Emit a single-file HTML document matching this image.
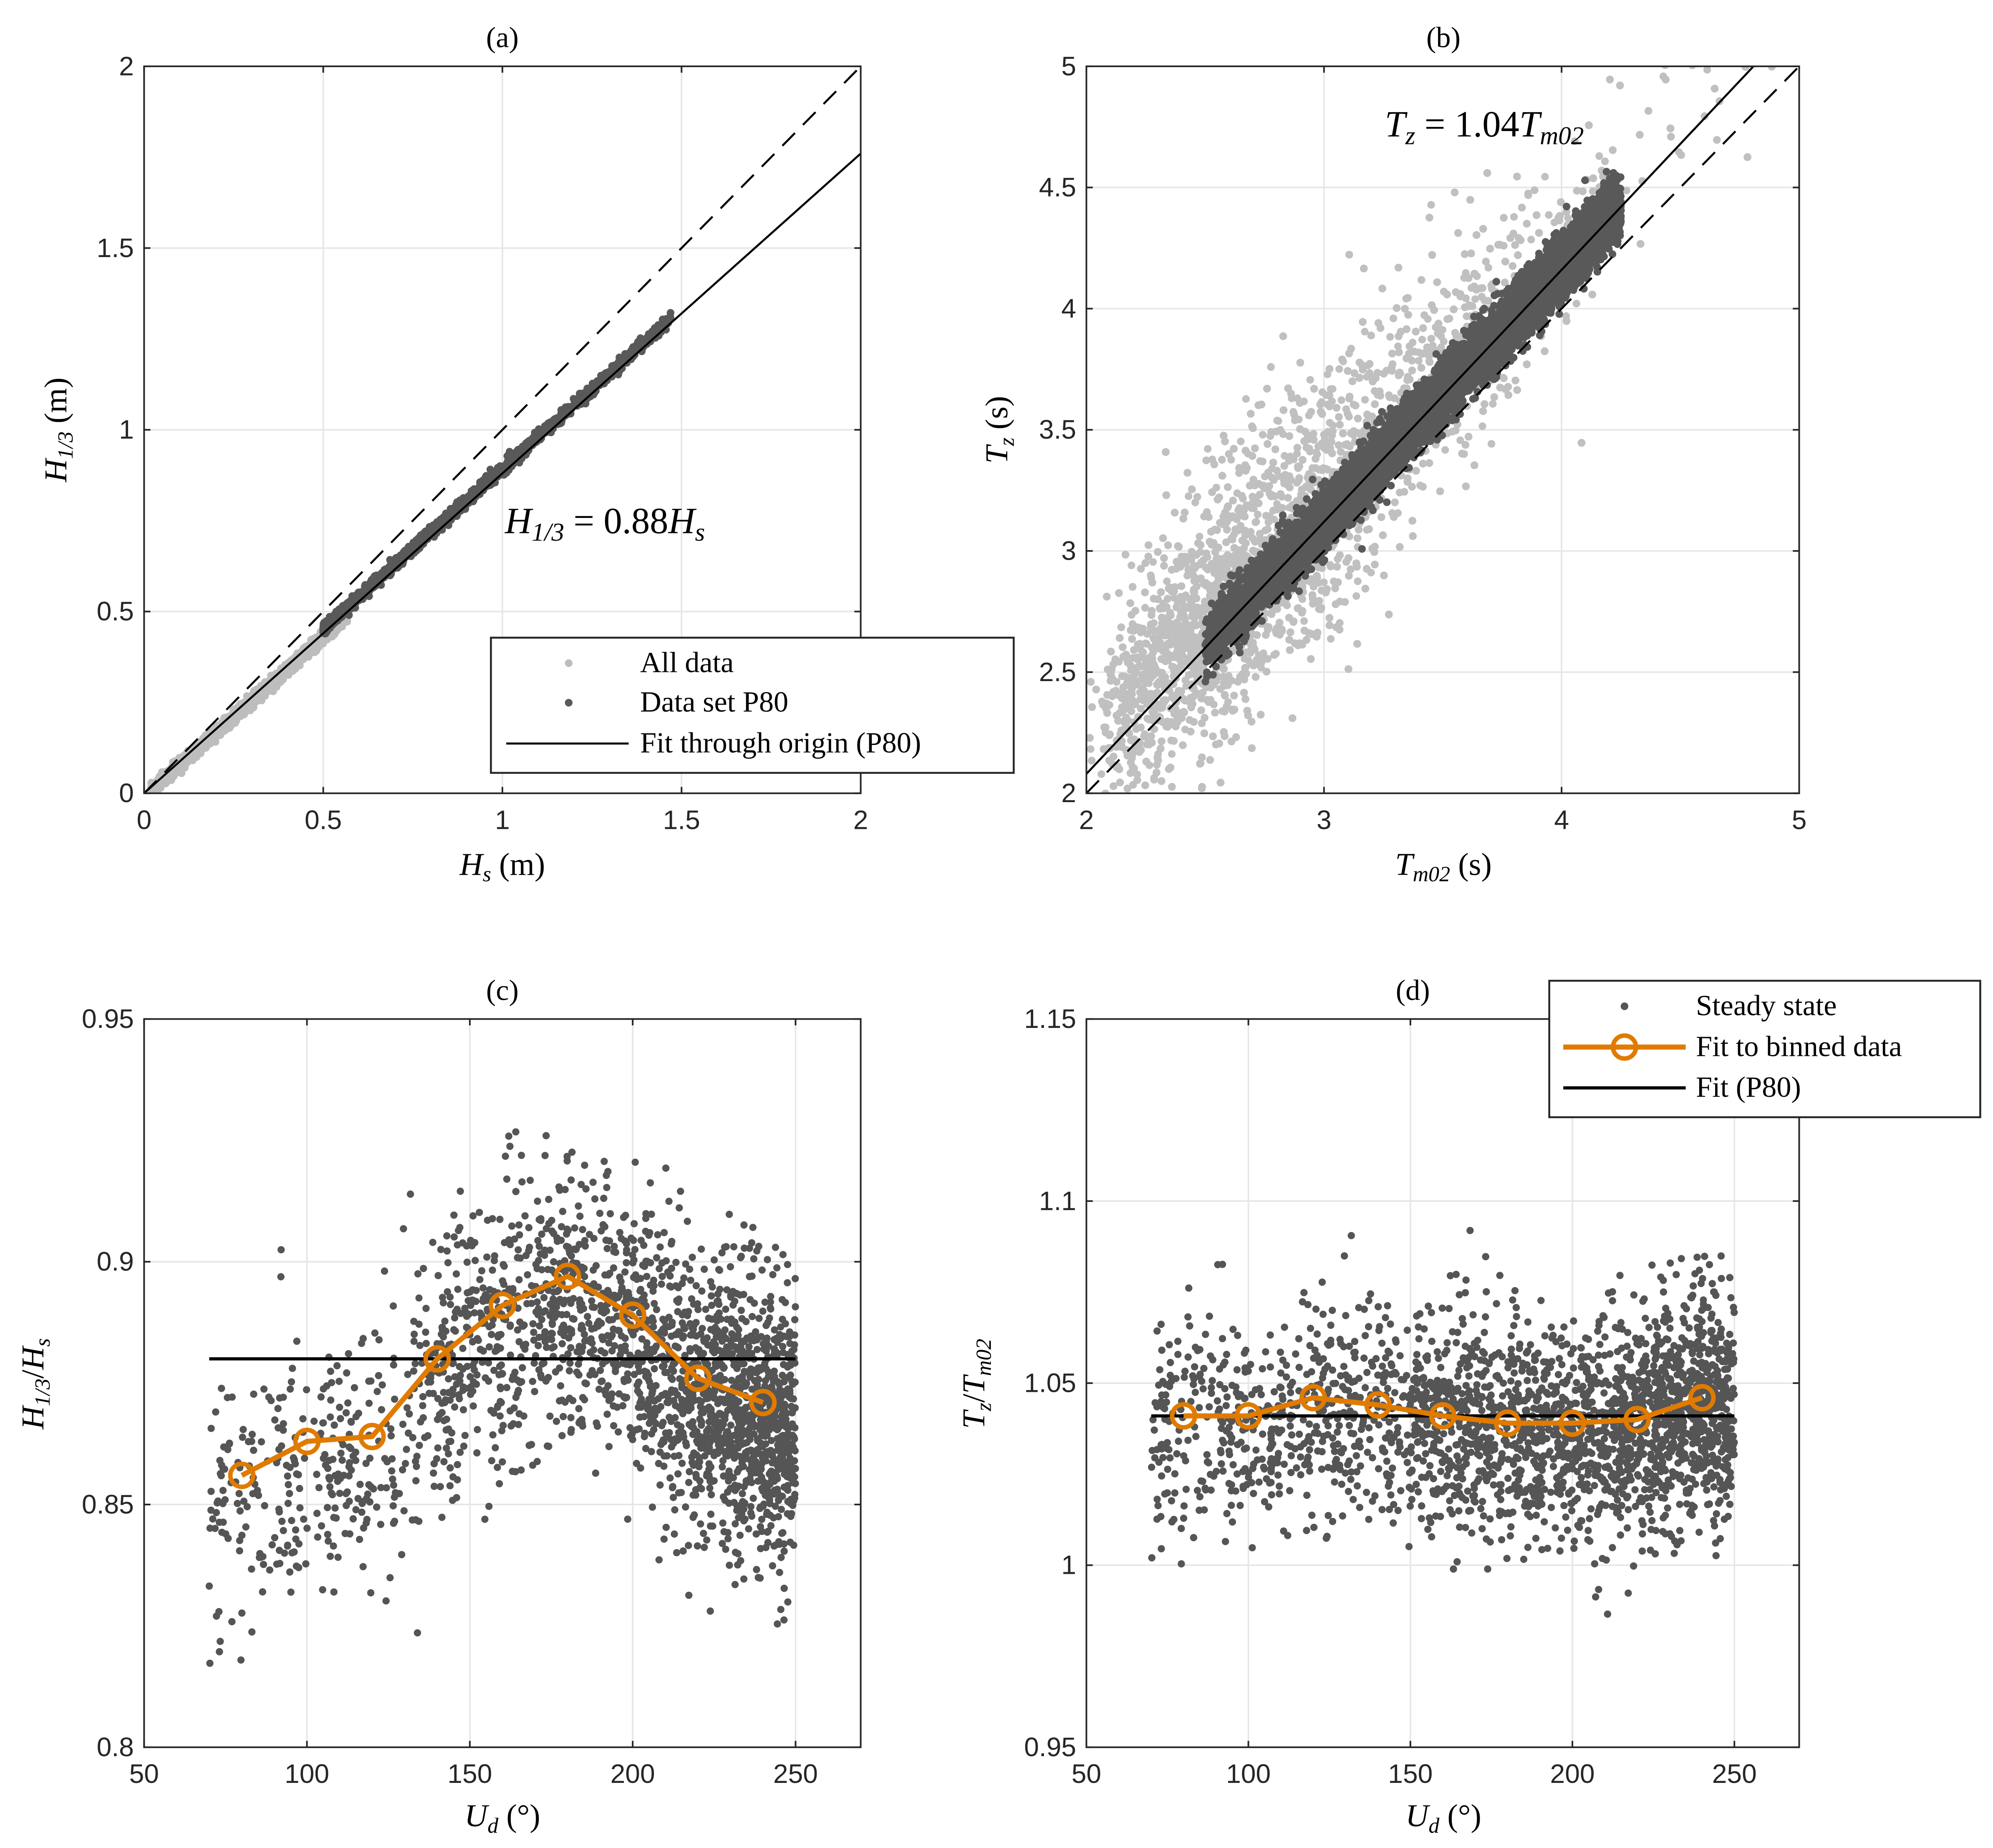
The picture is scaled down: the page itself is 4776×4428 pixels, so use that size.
<!DOCTYPE html>
<html><head><meta charset="utf-8"><style>
html,body{margin:0;padding:0;background:#fff;}
svg{display:block;}
#fig text{font-family:"Liberation Sans",Arial,sans-serif !important;fill:#262626;}
.serif text{font-family:"Liberation Serif",serif;fill:#000;}
</style></head><body>
<svg id="fig" width="4776" height="4428" viewBox="0 0 1563 1449" preserveAspectRatio="none" xmlns="http://www.w3.org/2000/svg">
<defs>
<clipPath id="ca"><rect x="113" y="52" width="562" height="570"/></clipPath>
<clipPath id="cb"><rect x="852" y="52" width="559" height="570"/></clipPath>
<clipPath id="cc"><rect x="113" y="799" width="562" height="571"/></clipPath>
<clipPath id="cd"><rect x="852" y="799" width="559" height="571"/></clipPath>
</defs>
</svg>
<script>
// ---- data ----
const binCentersC = [80,100,120,140,160,180,200,220,240];
const binValuesC = [0.856,0.863,0.864,0.880,0.891,0.897,0.889,0.876,0.871];
const fitC = [0.880];
const binCentersD = [80,100,120,140,160,180,200,220,240];
const binValuesD = [1.041,1.041,1.046,1.044,1.041,1.039,1.039,1.040,1.046];
const fitD = [1.041];
const slopeA = [0.88];
const slopeB = [1.04];
const ticksA = [0,0.5,1,1.5,2];
const ticksBx = [2,3,4,5];
const ticksBy = [2,2.5,3,3.5,4,4.5,5];
const ticksUx = [50,100,150,200,250];
const ticksCy = [0.8,0.85,0.9,0.95];
const ticksDy = [0.95,1,1.05,1.1,1.15];

const NS="http://www.w3.org/2000/svg";
const svg=document.getElementById('fig');
function el(tag,attrs,parent){const e=document.createElementNS(NS,tag);for(const k in attrs)e.setAttribute(k,attrs[k]);(parent||svg).appendChild(e);return e;}
let seed=12345;
function rnd(){seed=(seed*1103515245+12345)%2147483648;return seed/2147483648;}
function gauss(){let u=rnd()||1e-9,v=rnd();return Math.sqrt(-2*Math.log(u))*Math.cos(2*Math.PI*v);}

function panel(name,x0,y0,w,h,xmin,xmax,ymin,ymax,xt,yt,clip){
  const g=el('g',{});
  
  
  const sx=v=>x0+(v-xmin)/(xmax-xmin)*w;
  const sy=v=>y0+h-(v-ymin)/(ymax-ymin)*h;
  xt.forEach(t=>{const l=el('line',{x1:sx(t),x2:sx(t),y1:y0,y2:y0+h,stroke:'#e6e6e6','stroke-width':1.2},g);});
  yt.forEach(t=>{const l=el('line',{x1:x0,x2:x0+w,y1:sy(t),y2:sy(t),stroke:'#e6e6e6','stroke-width':1.2},g);});
  const marks=el('g',{'clip-path':'url(#'+clip+')'},g);
  
  const axes=el('g',{'font-family':'Liberation Sans, Arial, sans-serif'},g);
  
  return {g,sx,sy,marks,axes,x0,y0,w,h,xt,yt};
}
function finish(p,xlabelsFmt,ylabelsFmt){
  const {axes,sx,sy,x0,y0,w,h}=p;
  el('rect',{x:x0,y:y0,width:w,height:h,fill:'none',stroke:'#262626','stroke-width':1.3},axes);
  p.xt.forEach(t=>{el('line',{x1:sx(t),x2:sx(t),y1:y0+h,y2:y0+h-5,stroke:'#262626','stroke-width':1.3},axes);el('line',{x1:sx(t),x2:sx(t),y1:y0,y2:y0+5,stroke:'#262626','stroke-width':1.3},axes);
    const tx=el('text',{x:sx(t),y:y0+h+28,'text-anchor':'middle','font-size':21,'font-family':'Liberation Sans, Arial, sans-serif'},axes);tx.textContent=xlabelsFmt(t);});
  p.yt.forEach(t=>{el('line',{x1:x0,x2:x0+5,y1:sy(t),y2:sy(t),stroke:'#262626','stroke-width':1.3},axes);el('line',{x1:x0+w,x2:x0+w-5,y1:sy(t),y2:sy(t),stroke:'#262626','stroke-width':1.3},axes);
    const tx=el('text',{x:x0-8,y:sy(t)+7,'text-anchor':'end','font-size':21,'font-family':'Liberation Sans, Arial, sans-serif'},axes);tx.textContent=ylabelsFmt(t);});
}
function dot(p,x,y,r,c){el('circle',{cx:p.sx(x),cy:p.sy(y),r:r,fill:c},p.marks);}
const f=t=>String(t);

// ---- Panel a ----
const A=panel('panel-a',113,52,562,570,0,2,0,2,ticksA,ticksA,'ca');
for(let i=0;i<2500;i++){const x=0.02+Math.pow(rnd(),1.3)*0.55;dot(A,x,slopeA[0]*x-0.01+gauss()*0.008,3,'#bdbdbd');}
for(let i=0;i<1800;i++){const x=0.5+Math.pow(rnd(),1.4)*0.97;dot(A,x,slopeA[0]*x+0.012+gauss()*0.008,3,'#595959');}
el('line',{x1:A.sx(0),y1:A.sy(0),x2:A.sx(2),y2:A.sy(2),stroke:'#000','stroke-width':1.6,'stroke-dasharray':'14,9'},A.marks);
el('line',{x1:A.sx(0),y1:A.sy(0),x2:A.sx(2),y2:A.sy(2*slopeA[0]),stroke:'#000','stroke-width':1.6},A.marks);
finish(A,f,f);

// ---- Panel b ----
const B=panel('panel-b',852,52,559,570,2,5,2,5,ticksBx,ticksBy,'cb');
for(let i=0;i<32000;i++){let x=2.0+Math.abs(gauss())*0.85+rnd()*0.35;if(x>4.9)x=4.9-rnd();const sd=0.19+0.09*Math.exp(-Math.pow(x-2.9,2)/0.4);let y=slopeB[0]*x+0.1+gauss()*sd;if(rnd()<0.04)y+=gauss()*0.35;dot(B,x,y,3,'#c0c0c0');}
for(let i=0;i<9000;i++){const x=2.5+Math.pow(rnd(),0.8)*1.75;dot(B,x,slopeB[0]*x+0.01+gauss()*0.06,3,'#595959');}
el('line',{x1:B.sx(2),y1:B.sy(2),x2:B.sx(5),y2:B.sy(5),stroke:'#000','stroke-width':1.6,'stroke-dasharray':'14,9'},B.marks);
el('line',{x1:B.sx(2),y1:B.sy(2*slopeB[0]),x2:B.sx(5),y2:B.sy(5*slopeB[0]),stroke:'#000','stroke-width':1.6},B.marks);
finish(B,f,f);

// ---- Panel c ----
const C=panel('panel-c',113,799,562,571,50,270,0.8,0.95,ticksUx,ticksCy,'cc');
function interp(xs,ys,x){if(x<=xs[0])return ys[0]+(x-xs[0])*0.0003;if(x>=xs[xs.length-1])return ys[ys.length-1];for(let i=0;i<xs.length-1;i++)if(x<=xs[i+1]){const t=(x-xs[i])/(xs[i+1]-xs[i]);return ys[i]+t*(ys[i+1]-ys[i]);}}
for(let i=0;i<11000;i++){let x;const r=rnd();if(r<0.35)x=70+rnd()*180;else if(r<0.6)x=140+rnd()*110;else{x=250-Math.abs(gauss())*28;}if(x>250)x=250;if(x<70)x=70+rnd()*10;dot(C,x,interp(binCentersC,binValuesC,x)-0.004+gauss()*0.014,2.8,'#555555');}
el('line',{x1:C.sx(70),x2:C.sx(250),y1:C.sy(fitC[0]),y2:C.sy(fitC[0]),stroke:'#000','stroke-width':2.5},C.marks);
el('polyline',{points:binCentersC.map((x,i)=>C.sx(x)+','+C.sy(binValuesC[i])).join(' '),fill:'none',stroke:'#e07b00','stroke-width':4},C.marks);
binCentersC.forEach((x,i)=>{const c=el('circle',{cx:C.sx(x),cy:C.sy(binValuesC[i]),r:9,fill:'none',stroke:'#e07b00','stroke-width':3.5},C.marks);});
finish(C,f,t=>t.toFixed(t==0.8||t==0.9?1:2));

// ---- Panel d ----
const D=panel('panel-d',852,799,559,571,50,270,0.95,1.15,ticksUx,ticksDy,'cd');
for(let i=0;i<12000;i++){let x;const r=rnd();if(r<0.5)x=70+rnd()*180;else if(r<0.75)x=150+rnd()*100;else x=250-Math.abs(gauss())*35;if(x>250)x=250;if(x<70)x=70;dot(D,x,interp(binCentersD,binValuesD,x)-0.002+gauss()*0.015,2.8,'#555555');}
el('line',{x1:D.sx(70),x2:D.sx(250),y1:D.sy(fitD[0]),y2:D.sy(fitD[0]),stroke:'#000','stroke-width':2.5},D.marks);
el('polyline',{points:binCentersD.map((x,i)=>D.sx(x)+','+D.sy(binValuesD[i])).join(' '),fill:'none',stroke:'#e07b00','stroke-width':4},D.marks);
binCentersD.forEach((x,i)=>{const c=el('circle',{cx:D.sx(x),cy:D.sy(binValuesD[i]),r:9,fill:'none',stroke:'#e07b00','stroke-width':3.5},D.marks);});
finish(D,f,t=>t==1?'1':t.toFixed(2).replace(/0$/,''));
</script>
<svg style="position:absolute;left:0;top:0" width="4776" height="4428" viewBox="0 0 1563 1449" preserveAspectRatio="none" xmlns="http://www.w3.org/2000/svg">
<g class="serif">
<text x="394" y="37" font-size="23" text-anchor="middle">(a)</text>
<text x="1132" y="37" font-size="23" text-anchor="middle">(b)</text>
<text x="394" y="784" font-size="23" text-anchor="middle">(c)</text>
<text x="1108" y="784" font-size="23" text-anchor="middle">(d)</text>
<text x="394" y="686" font-size="25" text-anchor="middle"><tspan font-style="italic">H<tspan font-size="17" dy="5">s</tspan></tspan><tspan dy="-5"> (m)</tspan></text>
<text x="1132" y="686" font-size="25" text-anchor="middle"><tspan font-style="italic">T<tspan font-size="17" dy="5">m02</tspan></tspan><tspan dy="-5"> (s)</tspan></text>
<text x="394" y="1432" font-size="25" text-anchor="middle"><tspan font-style="italic">U<tspan font-size="17" dy="5">d</tspan></tspan><tspan dy="-5"> (°)</tspan></text>
<text x="1132" y="1432" font-size="25" text-anchor="middle"><tspan font-style="italic">U<tspan font-size="17" dy="5">d</tspan></tspan><tspan dy="-5"> (°)</tspan></text>
<text transform="translate(52,337) rotate(-90)" font-size="25" text-anchor="middle"><tspan font-style="italic">H<tspan font-size="17" dy="5">1/3</tspan></tspan><tspan dy="-5"> (m)</tspan></text>
<text transform="translate(790,337) rotate(-90)" font-size="25" text-anchor="middle"><tspan font-style="italic">T<tspan font-size="17" dy="5">z</tspan></tspan><tspan dy="-5"> (s)</tspan></text>
<text transform="translate(34,1085) rotate(-90)" font-size="25" text-anchor="middle"><tspan font-style="italic">H<tspan font-size="17" dy="5">1/3</tspan></tspan><tspan dy="-5">/</tspan><tspan font-style="italic">H<tspan font-size="17" dy="5">s</tspan></tspan></text>
<text transform="translate(772,1085) rotate(-90)" font-size="25" text-anchor="middle"><tspan font-style="italic">T<tspan font-size="17" dy="5">z</tspan></tspan><tspan dy="-5">/</tspan><tspan font-style="italic">T<tspan font-size="17" dy="5">m02</tspan></tspan></text>
<text x="396" y="418" font-size="29"><tspan font-style="italic">H<tspan font-size="20" dy="6">1/3</tspan></tspan><tspan dy="-6"> = 0.88</tspan><tspan font-style="italic">H<tspan font-size="20" dy="6">s</tspan></tspan></text>
<text x="1086" y="107" font-size="29"><tspan font-style="italic">T<tspan font-size="20" dy="6">z</tspan></tspan><tspan dy="-6"> = 1.04</tspan><tspan font-style="italic">T<tspan font-size="20" dy="6">m02</tspan></tspan></text>
</g>
<g class="serif" font-size="23">
<rect x="385" y="500" width="410" height="106" fill="#fff" stroke="#262626" stroke-width="1.5"/>
<circle cx="446" cy="520" r="3" fill="#bdbdbd"/><text x="502" y="527">All data</text>
<circle cx="446" cy="551" r="3" fill="#595959"/><text x="502" y="558">Data set P80</text>
<line x1="397" y1="583" x2="493" y2="583" stroke="#000" stroke-width="1.6"/><text x="502" y="590">Fit through origin (P80)</text>
</g>
<g class="serif" font-size="23">
<rect x="1215" y="769" width="338" height="107" fill="#fff" stroke="#262626" stroke-width="1.5"/>
<circle cx="1274" cy="789" r="3" fill="#555"/><text x="1330" y="796">Steady state</text>
<line x1="1226" y1="821" x2="1322" y2="821" stroke="#e07b00" stroke-width="4"/><circle cx="1274" cy="821" r="9" fill="none" stroke="#e07b00" stroke-width="3.5"/><text x="1330" y="828">Fit to binned data</text>
<line x1="1226" y1="853" x2="1322" y2="853" stroke="#000" stroke-width="2.5"/><text x="1330" y="860">Fit (P80)</text>
</g>
</svg>
</body></html>
